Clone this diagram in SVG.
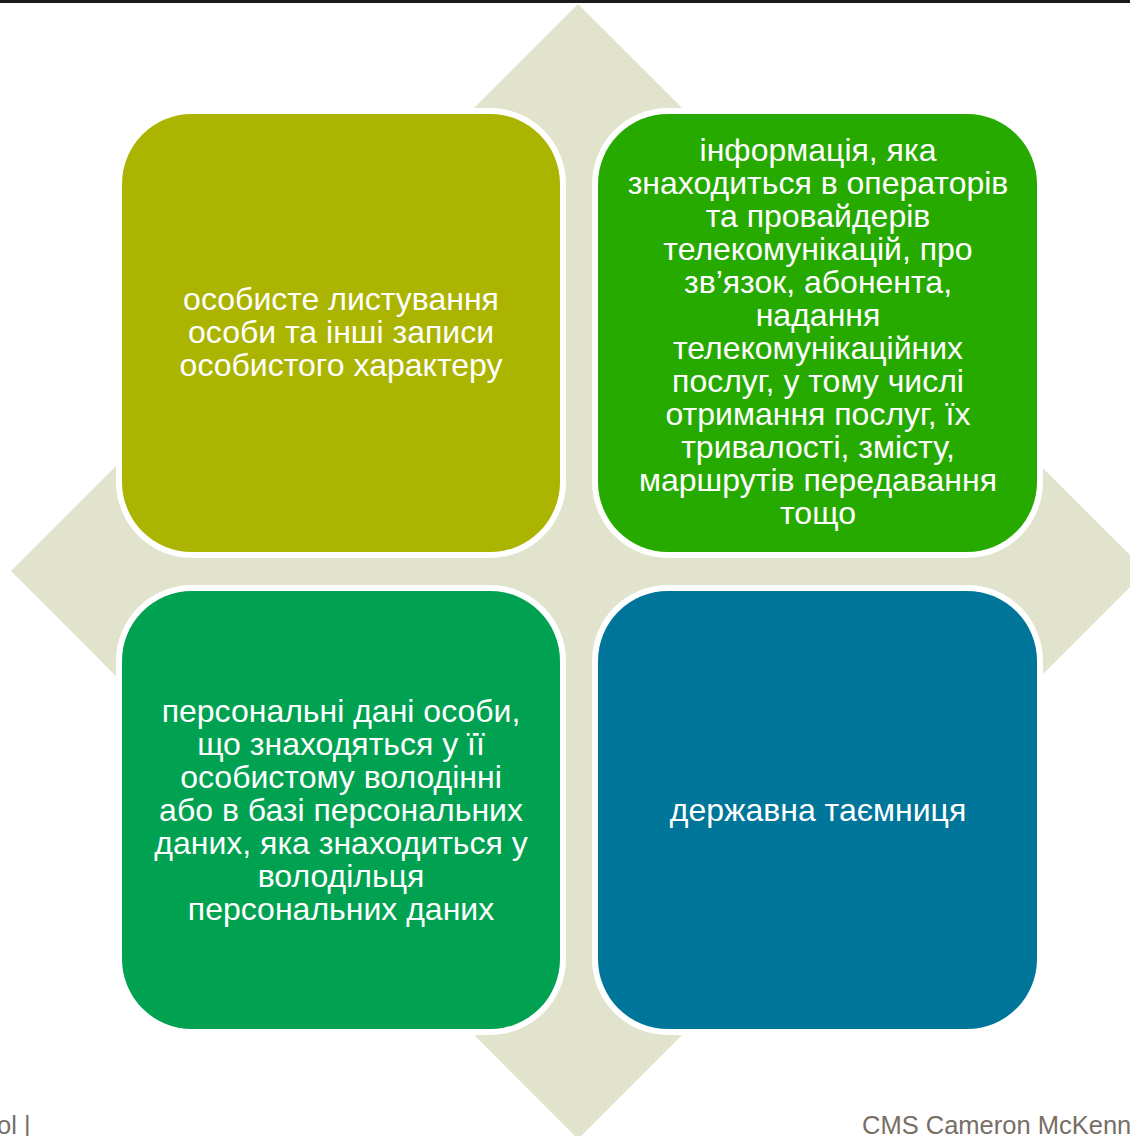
<svg xmlns="http://www.w3.org/2000/svg" width="1130" height="1136" viewBox="0 0 1130 1136">
<style>
.halo{fill:#ffffff}
.t{font-family:"Liberation Sans",Arial,sans-serif;font-size:32px;fill:#ffffff;text-anchor:middle}
.foot{font-family:"Liberation Sans",Arial,sans-serif;font-size:25.5px;fill:#776e66}
</style>
<rect width="1130" height="1136" fill="#ffffff"/>
<rect x="0" y="0" width="1130" height="3" fill="#1a1a1a"/>
<polygon id="diamond" points="578,4 1146,571 578,1139 11,571" fill="#e1e3cc"/>
<g id="connectors"></g>
<g id="box1">
<rect class="halo" x="116" y="108" width="450" height="450" rx="76"/>
<rect x="122" y="114" width="438" height="438" rx="70" fill="#abb400"/>
<text class="t"><tspan x="341" y="310">особисте листування</tspan><tspan x="341" y="343">особи та інші записи</tspan><tspan x="341" y="376">особистого характеру</tspan></text>
</g>
<g id="box2">
<rect class="halo" x="592" y="108" width="451" height="450" rx="76"/>
<rect x="598" y="114" width="439" height="438" rx="70" fill="#27aa00"/>
<text class="t"><tspan x="818" y="161">інформація, яка</tspan><tspan x="818" y="194">знаходиться в операторів</tspan><tspan x="818" y="227">та провайдерів</tspan><tspan x="818" y="260">телекомунікацій, про</tspan><tspan x="818" y="293">зв’язок, абонента,</tspan><tspan x="818" y="326">надання</tspan><tspan x="818" y="359">телекомунікаційних</tspan><tspan x="818" y="392">послуг, у тому числі</tspan><tspan x="818" y="425">отримання послуг, їх</tspan><tspan x="818" y="458">тривалості, змісту,</tspan><tspan x="818" y="491">маршрутів передавання</tspan><tspan x="818" y="524">тощо</tspan></text>
</g>
<g id="box3">
<rect class="halo" x="116" y="585" width="450" height="450" rx="76"/>
<rect x="122" y="591" width="438" height="438" rx="70" fill="#00a251"/>
<text class="t"><tspan x="341" y="722">персональні дані особи,</tspan><tspan x="341" y="755">що знаходяться у її</tspan><tspan x="341" y="788">особистому володінні</tspan><tspan x="341" y="821">або в базі персональних</tspan><tspan x="341" y="854">даних, яка знаходиться у</tspan><tspan x="341" y="887">володільця</tspan><tspan x="341" y="920">персональних даних</tspan></text>
</g>
<g id="box4">
<rect class="halo" x="592" y="585" width="451" height="450" rx="76"/>
<rect x="598" y="591" width="439" height="438" rx="70" fill="#00759a"/>
<text class="t"><tspan x="818" y="821">державна таємниця</tspan></text>
</g>
<text class="foot" x="-3" y="1134">ol |</text>
<text class="foot" x="862" y="1134">CMS Cameron McKenn</text>
</svg>
